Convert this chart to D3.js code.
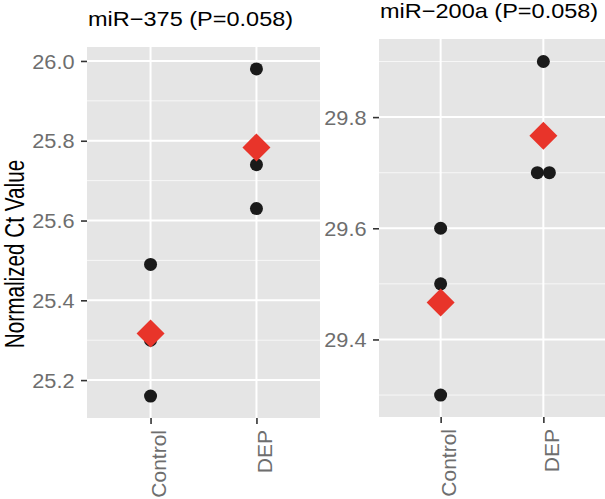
<!DOCTYPE html>
<html>
<head>
<meta charset="utf-8">
<script src="https://cdn.jsdelivr.net/npm/d3@7"></script>
<style>
    body { margin: 0; background: #fff; }
    svg { display: block; }
    svg text { font-family: "Liberation Sans", Arial, Helvetica, sans-serif; }
</style>
</head>
<body>
<div id="chart"></div>
<script>

// data
var groups = ['Control', 'DEP'];

var mir375Control = [25.49, 25.30, 25.16];
var mir375DEP = [25.98, 25.74, 25.63];
var mir375Ticks = [25.2, 25.4, 25.6, 25.8, 26.0];
var mir375Minor = [25.3, 25.5, 25.7, 25.9];
var mir375Domain = [25.105, 26.035];

var mir200aControl = [29.60, 29.50, 29.30];
var mir200aDEP = [29.90, 29.70, 29.70];
var mir200aTicks = [29.4, 29.6, 29.8];
var mir200aMinor = [29.3, 29.5, 29.7, 29.9];
var mir200aDomain = [29.2605, 29.9405];

var titles = ['miR\u2212375 (P=0.058)', 'miR\u2212200a (P=0.058)'];
var yTitle = 'Normalized Ct Value';


var width = 605,
    height = 499;

var svg = d3.select('#chart').append('svg')
    .attr('width', width)
    .attr('height', height);

// panel boxes (pixels)
var panels = [
    {
        title: titles[0],
        values: [mir375Control, mir375DEP],
        ticks: mir375Ticks,
        minor: mir375Minor,
        domain: mir375Domain,
        box: {left: 87, right: 320, top: 47, bottom: 418},
        titleY: 26
    },
    {
        title: titles[1],
        values: [mir200aControl, mir200aDEP],
        ticks: mir200aTicks,
        minor: mir200aMinor,
        domain: mir200aDomain,
        box: {left: 379, right: 605, top: 39, bottom: 417},
        titleY: 18
    }
];

var pointR = 6.5,
    diamondR = 14,
    tickLen = 6,
    labelGap = 12.5;


function drawPanel(p) {
    var b = p.box;

    var x = d3.scalePoint()
        .domain(groups)
        .range([b.left, b.right])
        .padding(0.6);

    var y = d3.scaleLinear()
        .domain(p.domain)
        .range([b.bottom, b.top]);

    var g = svg.append('g');

    g.append('rect')
        .attr('x', b.left)
        .attr('y', b.top)
        .attr('width', b.right - b.left)
        .attr('height', b.bottom - b.top)
        .style('fill', '#E5E5E5');

    // minor grid
    g.selectAll('.minor')
        .data(p.minor).enter()
        .append('line')
        .attr('x1', b.left)
        .attr('x2', b.right)
        .attr('y1', function(d){ return y(d); })
        .attr('y2', function(d){ return y(d); })
        .style('stroke', '#F7F7F7')
        .style('stroke-width', 1);

    // major grid
    g.selectAll('.hmajor')
        .data(p.ticks).enter()
        .append('line')
        .attr('x1', b.left)
        .attr('x2', b.right)
        .attr('y1', function(d){ return y(d); })
        .attr('y2', function(d){ return y(d); })
        .style('stroke', '#fff')
        .style('stroke-width', 2);

    g.selectAll('.vmajor')
        .data(groups).enter()
        .append('line')
        .attr('x1', function(d){ return x(d); })
        .attr('x2', function(d){ return x(d); })
        .attr('y1', b.top)
        .attr('y2', b.bottom)
        .style('stroke', '#fff')
        .style('stroke-width', 2);

    // y axis
    var yAxis = g.append('g')
        .attr('transform', 'translate(' + b.left + ',0)')
        .call(d3.axisLeft(y)
            .tickValues(p.ticks)
            .tickFormat(d3.format('.1f'))
            .tickSize(tickLen)
            .tickPadding(0));
    yAxis.select('.domain').remove();
    yAxis.selectAll('line').style('stroke', '#333').style('stroke-width', 1.6);
    yAxis.selectAll('text')
        .attr('x', 0)
        .attr('dy', '0.35em')
        .attr('transform', 'translate(' + (-labelGap) + ',0) scale(1.06,1)')
        .style('font-size', '20.5px')
        .style('fill', '#6e6e6e');

    // x axis
    var xAxis = g.append('g')
        .attr('transform', 'translate(0,' + b.bottom + ')')
        .call(d3.axisBottom(x).tickSize(tickLen).tickPadding(0));
    xAxis.select('.domain').remove();
    xAxis.selectAll('line').style('stroke', '#333').style('stroke-width', 1.6);
    xAxis.selectAll('text')
        .attr('y', 0)
        .attr('dy', 0)
        .attr('transform', 'translate(15,' + (tickLen + 6) + ') rotate(-90)')
        .style('text-anchor', 'end')
        .style('font-size', '21px')
        .style('fill', '#6e6e6e');

    // points, side by side when values tie
    var pts = [];
    p.values.forEach(function(vals, gi){
        var counts = d3.rollup(vals, function(v){ return v.length; }, function(v){ return v; });
        var seen = new Map();
        vals.forEach(function(v){
            var n = counts.get(v), k = seen.get(v) || 0;
            seen.set(v, k + 1);
            pts.push({group: groups[gi], value: v, shift: (k - (n - 1) / 2) * pointR * 1.85});
        });
    });

    g.selectAll('.pt')
        .data(pts).enter()
        .append('circle')
        .attr('cx', function(d){ return x(d.group) + d.shift; })
        .attr('cy', function(d){ return y(d.value); })
        .attr('r', pointR)
        .style('fill', '#1a1a1a');

    // group means
    var means = p.values.map(function(vals, gi){
        return {group: groups[gi], value: d3.mean(vals)};
    });

    g.selectAll('.mean')
        .data(means).enter()
        .append('path')
        .attr('d', function(d){
            var cx = x(d.group), cy = y(d.value);
            return [
                'M' + cx + ',' + (cy - diamondR),
                'L' + (cx + diamondR) + ',' + cy,
                'L' + cx + ',' + (cy + diamondR),
                'L' + (cx - diamondR) + ',' + cy,
                'Z'].join('');
        })
        .style('fill', '#E8342A');

    // title, the source font runs wide
    svg.append('text')
        .attr('transform', 'translate(' + (b.left + 1) + ',' + p.titleY + ') scale(1.12,1)')
        .style('font-size', '21px')
        .style('fill', '#000')
        .text(p.title);
}

panels.forEach(drawPanel);

svg.append('text')
    .attr('transform', 'translate(24,254) rotate(-90) scale(0.74,1)')
    .style('text-anchor', 'middle')
    .style('font-size', '28px')
    .style('fill', '#000')
    .text(yTitle);

</script>
</body>
</html>
